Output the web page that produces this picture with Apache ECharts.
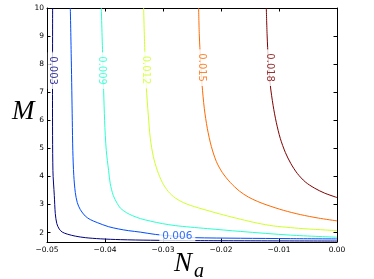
<!DOCTYPE html>
<html>
<head>
<meta charset="utf-8">
<script src="https://cdn.jsdelivr.net/npm/echarts@6/dist/echarts.min.js"></script>
<style>
html,body{margin:0;padding:0;background:#fff;}
#chart{width:374px;height:279px;}
</style>
</head>
<body>
<div id="chart"></div>
<script>
// Tick values and labels
const xTicks = [-0.05, -0.04, -0.03, -0.02, -0.01, 0.0];
const xTickLabels = ['\u22120.05', '\u22120.04', '\u22120.03', '\u22120.02', '\u22120.01', '0.00'];
const yTicks = [2, 3, 4, 5, 6, 7, 8, 9, 10];
const yTickLabels = ['2', '3', '4', '5', '6', '7', '8', '9', '10'];

// Contour levels
const levels = ['0.003', '0.006', '0.009', '0.012', '0.015', '0.018'];

// Contour lines: [N_a, M]
const c003 = [[-0.04903,10.0],[-0.04905,6.714],[-0.04898,4.214],[-0.04874,3.321],[-0.04857,2.679],
  [-0.04831,2.321],[-0.04788,2.125],[-0.04736,2.018],[-0.04650,1.946],[-0.04512,1.875],[-0.04340,1.821],
  [-0.04081,1.779],[-0.03736,1.750],[-0.03219,1.729],[-0.02357,1.714],[0.0,1.700]];
const c006 = [[-0.04598,10.0],[-0.04581,8.143],[-0.04564,6.0],[-0.04555,4.929],[-0.04538,4.036],
  [-0.04512,3.429],[-0.04478,3.071],[-0.04426,2.821],[-0.04340,2.589],[-0.04253,2.464],[-0.04133,2.357],
  [-0.03943,2.214],[-0.03771,2.132],[-0.03598,2.071],[-0.03391,2.018],[-0.03133,1.936],[-0.02753,1.864],
  [-0.02478,1.821],[-0.01667,1.800],[-0.00805,1.786],[0.0,1.775]];
const c009 = [[-0.04064,10.0],[-0.04038,8.143],[-0.04007,6.0],[-0.03978,4.929],[-0.03938,4.214],
  [-0.03909,3.739],[-0.03857,3.321],[-0.03788,3.036],[-0.03736,2.875],[-0.03633,2.714],[-0.03529,2.607],
  [-0.03391,2.500],[-0.03219,2.411],[-0.03012,2.321],[-0.02788,2.250],[-0.02529,2.196],[-0.02236,2.143],
  [-0.01667,2.043],[-0.00805,1.911],[0.0,1.836]];
const c012 = [[-0.03334,10.0],[-0.03314,8.5],[-0.03288,7.189],[-0.03253,6.179],[-0.03219,5.357],
  [-0.03167,4.714],[-0.03098,4.214],[-0.03012,3.786],[-0.02909,3.464],[-0.02788,3.232],[-0.02650,3.071],
  [-0.02529,2.971],[-0.02241,2.793],[-0.01960,2.632],[-0.01667,2.479],[-0.01374,2.339],[-0.01098,2.239],
  [-0.00805,2.179],[-0.00517,2.132],[0.0,2.071]];
const c015 = [[-0.02386,10.0],[-0.02374,9.036],[-0.02353,8.143],[-0.02326,7.25],[-0.02288,6.429],
  [-0.02236,5.714],[-0.02167,5.071],[-0.02081,4.536],[-0.01978,4.143],[-0.01840,3.786],[-0.01684,3.482],
  [-0.01529,3.268],[-0.01374,3.114],[-0.01207,2.982],[-0.00926,2.796],[-0.00633,2.643],[-0.00322,2.518],
  [0.0,2.418]];
const c018 = [[-0.01219,10.0],[-0.01205,9.036],[-0.01184,8.143],[-0.01150,7.25],[-0.01102,6.536],
  [-0.01047,5.929],[-0.00978,5.357],[-0.00891,4.857],[-0.00797,4.464],[-0.00684,4.107],[-0.00546,3.804],
  [-0.00391,3.589],[-0.00219,3.411],[0.0,3.25]];
const contours = [c003, c006, c009, c012, c015, c018];

// Inline label anchors [N_a, M]
const labelPoints = [[-0.0490,7.77],[-0.02753,1.86],[-0.0406,7.77],[-0.0330,7.79],[-0.02328,7.875],[-0.01167,7.875]];

const colors = ['#00007f', '#004cff', '#29ffce', '#ceff29', '#ff6800', '#7f0000'];

const chart = echarts.init(document.getElementById('chart'), null, {renderer: 'canvas'});

const tickFont = 'DejaVu Sans';
function xFmt(v){ let i = xTicks.findIndex(t => Math.abs(t - v) < 1e-6); return i >= 0 ? xTickLabels[i] : ''; }
function yFmt(v){ let i = yTicks.findIndex(t => Math.abs(t - v) < 1e-6); return i >= 0 ? yTickLabels[i] : ''; }

const axisLine = {show: true, onZero: false, lineStyle: {color: '#000', width: 1}};
const tick = (vals) => ({show: true, inside: true, length: 3.5, customValues: vals, lineStyle: {color: '#000', width: 1}});

const series = [];
contours.forEach((c, i) => {
  series.push({
    type: 'line', data: c, showSymbol: false, symbol: 'none', smooth: 0.3,
    lineStyle: {color: colors[i], width: 1}, clip: true, z: 2, silent: true
  });
});
labelPoints.forEach((p, i) => {
  const horiz = i === 1;
  series.push({
    type: 'scatter', data: [p], symbolSize: 0, z: 5, silent: true,
    label: {
      show: true, position: 'inside', formatter: levels[i],
      rotate: horiz ? 0 : -90,
      color: colors[i], fontFamily: tickFont, fontSize: horiz ? 10.5 : 10,
      backgroundColor: '#fff', padding: horiz ? [0, 3] : [0, 4]
    }
  });
});

chart.setOption({
  animation: false,
  backgroundColor: '#fff',
  grid: {left: 47, right: 37, top: 8, bottom: 37, containLabel: false, outerBoundsMode: 'none'},
  xAxis: [
    {type: 'value', min: -0.05, max: 0, position: 'bottom', axisLine: axisLine, axisTick: tick(xTicks),
     splitLine: {show: false},
     axisLabel: {show: true, customValues: xTicks, formatter: xFmt, fontFamily: tickFont, fontSize: 7.5, color: '#000', margin: 4}},
    {type: 'value', min: -0.05, max: 0, position: 'top', axisLine: axisLine, axisTick: tick(xTicks),
     splitLine: {show: false}, axisLabel: {show: false}}
  ],
  yAxis: [
    {type: 'value', min: 1.666, max: 10, position: 'left', axisLine: axisLine, axisTick: tick(yTicks),
     splitLine: {show: false},
     axisLabel: {show: true, customValues: yTicks, formatter: yFmt, fontFamily: tickFont, fontSize: 7.5, color: '#000', margin: 3}},
    {type: 'value', min: 1.666, max: 10, position: 'right', axisLine: axisLine, axisTick: tick(yTicks),
     splitLine: {show: false}, axisLabel: {show: false}}
  ],
  graphic: [
    {type: 'text', left: 12, top: 98, style: {text: 'M', font: 'italic 27px "Liberation Serif"', fill: '#000'}},
    {type: 'text', left: 174, top: 250, style: {text: 'N', font: 'italic 27px "Liberation Serif"', fill: '#000'}},
    {type: 'text', left: 194, top: 262, style: {text: 'a', font: 'italic 20px "Liberation Serif"', fill: '#000'}}
  ],
  series: series
});
</script>
</body>
</html>
